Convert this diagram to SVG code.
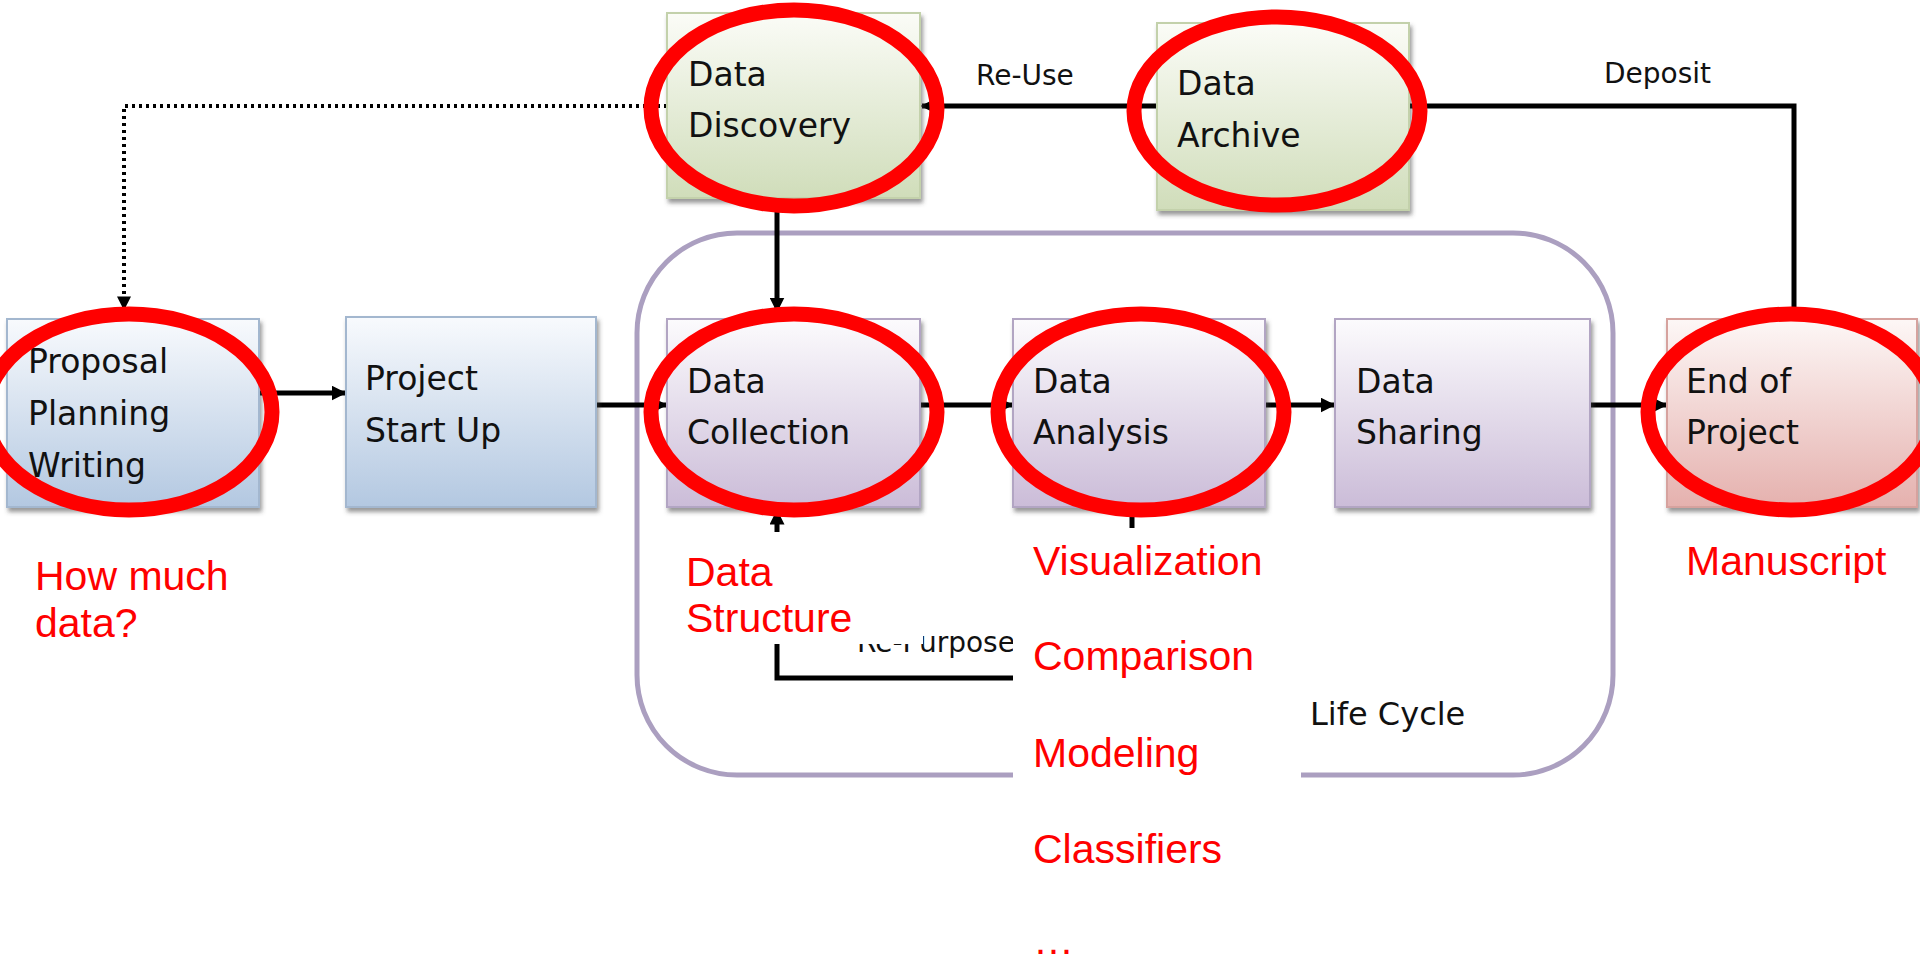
<svg xmlns="http://www.w3.org/2000/svg" width="1920" height="962" viewBox="0 0 1920 962">
<defs>
<linearGradient id="gBlue" x1="0" y1="0" x2="0" y2="1"><stop offset="0" stop-color="#f8fafd"/><stop offset="1" stop-color="#b3c8e1"/></linearGradient>
<linearGradient id="gGreen" x1="0" y1="0" x2="0" y2="1"><stop offset="0" stop-color="#fbfcf7"/><stop offset="1" stop-color="#d0ddba"/></linearGradient>
<linearGradient id="gPurple" x1="0" y1="0" x2="0" y2="1"><stop offset="0" stop-color="#fcfbfd"/><stop offset="1" stop-color="#cbbcd8"/></linearGradient>
<linearGradient id="gRed" x1="0" y1="0" x2="0" y2="1"><stop offset="0" stop-color="#fdf7f6"/><stop offset="1" stop-color="#e5b1ae"/></linearGradient>
<filter id="sh" x="-10%" y="-10%" width="130%" height="130%"><feDropShadow dx="2" dy="4" stdDeviation="2" flood-color="#444" flood-opacity="0.55"/></filter>
<marker id="ah" viewBox="0 0 10 10" refX="9" refY="5" markerWidth="3" markerHeight="3" orient="auto"><path d="M0,0 L10,5 L0,10 z" fill="#000"/></marker>
<marker id="ahs" viewBox="0 0 10 10" refX="9" refY="5" markerWidth="3.5" markerHeight="3.5" orient="auto"><path d="M0,0 L10,5 L0,10 z" fill="#000"/></marker>
</defs>
<style>
.t{font-family:"DejaVu Sans",sans-serif;font-size:33px;fill:#111111}
.lbl{font-family:"DejaVu Sans",sans-serif;font-size:28px;fill:#111111}
.r{font-family:"Liberation Sans",Arial,sans-serif;font-size:41px;fill:#ff0000}
.ring{fill:none;stroke:#ff0000;stroke-width:15}
.c{fill:none;stroke:#000;stroke-width:5}
.blue{fill:url(#gBlue);stroke:#a3b7cf;stroke-width:2;filter:url(#sh)}
.green{fill:url(#gGreen);stroke:#c3d1ab;stroke-width:2;filter:url(#sh)}
.purple{fill:url(#gPurple);stroke:#b2a5c3;stroke-width:2;filter:url(#sh)}
.red{fill:url(#gRed);stroke:#d6a29e;stroke-width:2;filter:url(#sh)}
.patch{fill:#ffffff}
</style>
<rect width="1920" height="962" fill="#ffffff"/>

<g id="lifecycle">
<rect x="637" y="233" width="976" height="542" rx="100" ry="100" fill="none" stroke="#ab9fc0" stroke-width="5"/>
<text class="lbl" x="1310" y="725" style="font-size:32px">Life Cycle</text>
</g>

<g id="connectors">
<polyline points="667,106 124,106 124,309" fill="none" stroke="#000" stroke-width="4" stroke-dasharray="3,4" marker-end="url(#ahs)"/>
<line class="c" x1="1157" y1="106" x2="922" y2="106" marker-end="url(#ah)"/>
<polyline class="c" points="1409,106 1794,106 1794,319"/>
<line class="c" x1="777" y1="200" x2="777" y2="311" marker-end="url(#ah)"/>
<line class="c" x1="259" y1="393" x2="345" y2="393" marker-end="url(#ah)"/>
<line class="c" x1="596" y1="405" x2="666" y2="405" marker-end="url(#ah)"/>
<line class="c" x1="920" y1="405" x2="1012" y2="405" marker-end="url(#ah)"/>
<line class="c" x1="1265" y1="405" x2="1334" y2="405" marker-end="url(#ah)"/>
<line class="c" x1="1590" y1="405" x2="1666" y2="405" marker-end="url(#ah)"/>
<polyline class="c" points="1132,510 1132,678 777,678 777,511" marker-end="url(#ah)"/>
<text class="lbl" x="976" y="85">Re-Use</text>
<text class="lbl" x="1604" y="83">Deposit</text>
<text class="lbl" x="857" y="652">Re-Purpose</text>
</g>

<g id="node-proposal">
<rect class="blue" x="7" y="319" width="252" height="188"/>
<text class="t" x="28" y="373">Proposal</text>
<text class="t" x="28" y="425">Planning</text>
<text class="t" x="28" y="477">Writing</text>
</g>
<g id="node-startup">
<rect class="blue" x="346" y="317" width="250" height="190"/>
<text class="t" x="365" y="390">Project</text>
<text class="t" x="365" y="442">Start Up</text>
</g>
<g id="node-discovery">
<rect class="green" x="667" y="13" width="253" height="185"/>
<text class="t" x="688" y="86">Data</text>
<text class="t" x="688" y="137">Discovery</text>
</g>
<g id="node-archive">
<rect class="green" x="1157" y="23" width="252" height="187"/>
<text class="t" x="1177" y="95">Data</text>
<text class="t" x="1177" y="147">Archive</text>
</g>
<g id="node-collection">
<rect class="purple" x="667" y="319" width="253" height="188"/>
<text class="t" x="687" y="393">Data</text>
<text class="t" x="687" y="444">Collection</text>
</g>
<g id="node-analysis">
<rect class="purple" x="1013" y="319" width="252" height="188"/>
<text class="t" x="1033" y="393">Data</text>
<text class="t" x="1033" y="444">Analysis</text>
</g>
<g id="node-sharing">
<rect class="purple" x="1335" y="319" width="255" height="188"/>
<text class="t" x="1356" y="393">Data</text>
<text class="t" x="1356" y="444">Sharing</text>
</g>
<g id="node-end">
<rect class="red" x="1667" y="319" width="250" height="188"/>
<text class="t" x="1686" y="393">End of</text>
<text class="t" x="1686" y="444">Project</text>
</g>

<g id="annotations">
<rect class="patch" x="665" y="532" width="258" height="112"/>
<rect class="patch" x="1013" y="528" width="288" height="434"/>
<text class="r" x="35" y="590">How much</text>
<text class="r" x="35" y="637">data?</text>
<text class="r" x="686" y="586">Data</text>
<text class="r" x="686" y="632">Structure</text>
<text class="r" x="1033" y="575">Visualization</text>
<text class="r" x="1033" y="670">Comparison</text>
<text class="r" x="1033" y="767">Modeling</text>
<text class="r" x="1033" y="863">Classifiers</text>
<text class="r" x="1033" y="954">…</text>
<text class="r" x="1686" y="575">Manuscript</text>
</g>

<g id="highlights">
<ellipse class="ring" cx="129" cy="412" rx="143" ry="98"/>
<ellipse class="ring" cx="794" cy="108" rx="143" ry="98"/>
<ellipse class="ring" cx="1277" cy="111" rx="143" ry="94"/>
<ellipse class="ring" cx="794" cy="412" rx="143" ry="98"/>
<ellipse class="ring" cx="1141" cy="412" rx="143" ry="98"/>
<ellipse class="ring" cx="1791" cy="412" rx="143" ry="98"/>
</g>
</svg>
